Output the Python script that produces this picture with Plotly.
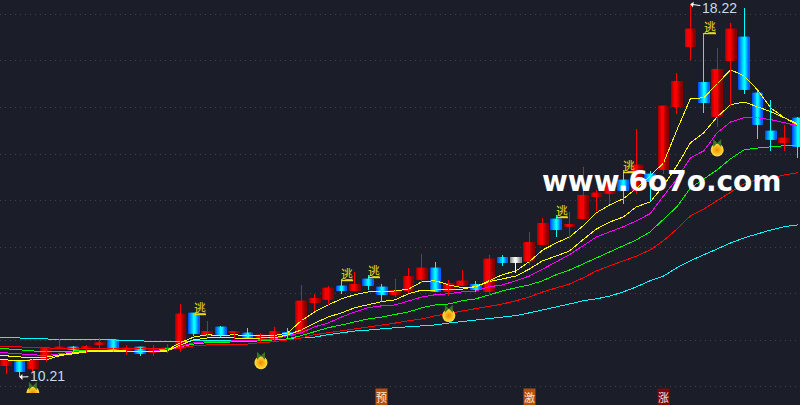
"""K-line chart with moving averages, signals and labels."""

import plotly.graph_objects as go

# Daily candles, one entry per bar
open_px = [10.45, 10.56, 10.39, 10.58, 10.82, 10.86, 10.82, 10.90, 11.03, 10.77,
           10.86, 10.73, 10.79, 10.82, 11.59, 11.10, 11.29, 11.16, 11.16, 11.03,
           11.03, 11.18, 11.14, 11.80, 11.87, 12.17, 12.06, 12.32, 12.15, 11.98,
           12.06, 12.30, 12.56, 12.04, 12.17, 12.21, 12.04, 12.79, 12.79, 12.69,
           13.05, 13.61, 13.44, 13.61, 14.08, 14.15, 14.45, 14.21, 14.58, 14.66,
           16.01, 17.30, 16.55, 15.80, 17.00, 17.52, 16.32, 15.50, 15.24, 15.78]
close_px = [10.58, 10.32, 10.60, 10.84, 10.86, 10.79, 10.88, 10.95, 10.75, 10.84,
            10.71, 10.79, 10.84, 11.57, 11.14, 11.20, 11.12, 11.20, 11.05, 11.12,
            11.20, 11.10, 11.85, 11.91, 12.13, 12.06, 12.21, 12.17, 11.98, 12.08,
            12.38, 12.56, 12.04, 12.23, 12.28, 12.08, 12.75, 12.66, 12.66, 13.11,
            13.52, 13.37, 13.50, 14.12, 14.17, 14.40, 14.21, 14.77, 14.40, 16.04,
            16.57, 17.69, 16.10, 16.83, 17.69, 16.38, 15.63, 15.31, 15.35, 15.15]
high_px = [10.58, 10.56, 10.60, 10.84, 11.03, 10.88, 10.90, 11.05, 11.03, 10.90,
           10.86, 10.90, 10.92, 11.78, 11.59, 11.42, 11.31, 11.20, 11.27, 11.16,
           11.29, 11.27, 12.19, 12.00, 12.17, 12.32, 12.47, 12.41, 12.21, 12.32,
           12.56, 12.86, 12.69, 12.30, 12.51, 12.28, 12.84, 12.84, 12.79, 13.33,
           13.63, 13.69, 13.76, 14.73, 14.23, 14.49, 14.66, 15.54, 14.64, 16.04,
           16.74, 18.22, 17.60, 17.28, 17.82, 18.14, 16.36, 16.16, 15.63, 15.80]
low_px = [10.28, 10.21, 10.30, 10.54, 10.82, 10.73, 10.73, 10.84, 10.75, 10.69,
          10.67, 10.67, 10.73, 10.75, 11.10, 11.07, 11.07, 11.03, 11.05, 10.95,
          10.99, 11.03, 11.14, 11.63, 11.76, 12.00, 12.06, 12.08, 11.83, 11.93,
          12.02, 12.23, 12.04, 11.95, 12.17, 12.04, 11.98, 12.60, 12.45, 12.62,
          13.05, 13.22, 13.18, 13.61, 13.78, 13.93, 13.93, 14.15, 14.00, 14.58,
          15.86, 17.02, 15.89, 15.58, 16.04, 16.29, 15.33, 15.07, 15.07, 14.92]
grey_bars = [38]

# Moving averages, fastest first. One extra value on the left for the bar before the window
ma_yellow_1 = [10.69, 10.67, 10.64, 10.62, 10.64, 10.69, 10.73, 10.77, 10.79, 10.79, 10.77,
               10.77, 10.75, 10.79, 10.95, 11.07, 11.12, 11.10, 11.12, 11.10, 11.10,
               11.10, 11.16, 11.42, 11.61, 11.76, 11.89, 11.98, 12.04, 12.04, 12.06,
               12.10, 12.26, 12.28, 12.19, 12.13, 12.15, 12.28, 12.41, 12.49, 12.69,
               12.94, 13.09, 13.22, 13.46, 13.74, 13.91, 14.04, 14.27, 14.53, 14.81,
               15.52, 16.19, 16.21, 16.51, 16.81, 16.68, 16.38, 15.99, 15.78, 15.65]
ma_yellow_2 = [10.60, 10.58, 10.56, 10.58, 10.58, 10.67, 10.71, 10.75, 10.77, 10.77, 10.77,
               10.75, 10.75, 10.77, 10.90, 11.01, 11.05, 11.05, 11.05, 11.03, 11.05,
               11.05, 11.12, 11.22, 11.37, 11.50, 11.59, 11.70, 11.76, 11.83, 11.87,
               12.00, 12.08, 12.08, 12.10, 12.10, 12.15, 12.26, 12.32, 12.38, 12.53,
               12.71, 12.81, 12.92, 13.16, 13.39, 13.54, 13.65, 13.87, 13.97, 14.32,
               14.75, 15.24, 15.46, 15.80, 16.06, 16.12, 16.01, 15.91, 15.78, 15.63]
ma_magenta = [10.75, 10.73, 10.71, 10.69, 10.67, 10.71, 10.75, 10.77, 10.77, 10.77, 10.77,
              10.77, 10.77, 10.79, 10.86, 10.95, 10.97, 10.97, 10.99, 10.99, 11.01,
              11.03, 11.10, 11.16, 11.29, 11.37, 11.50, 11.61, 11.70, 11.74, 11.76,
              11.85, 11.93, 11.98, 12.00, 12.04, 12.06, 12.15, 12.19, 12.28, 12.38,
              12.53, 12.69, 12.84, 13.03, 13.22, 13.33, 13.44, 13.57, 13.72, 14.10,
              14.47, 14.92, 15.07, 15.46, 15.69, 15.78, 15.78, 15.74, 15.67, 15.61]
ma_green = [10.84, 10.82, 10.79, 10.77, 10.75, 10.75, 10.77, 10.79, 10.79, 10.77, 10.77,
            10.77, 10.77, 10.82, 10.86, 10.92, 10.95, 10.95, 10.97, 10.97, 10.99,
            11.01, 11.03, 11.10, 11.18, 11.27, 11.33, 11.40, 11.46, 11.50, 11.55,
            11.61, 11.70, 11.76, 11.78, 11.85, 11.89, 11.98, 12.06, 12.13, 12.19,
            12.28, 12.41, 12.51, 12.64, 12.77, 12.90, 13.03, 13.16, 13.33, 13.61,
            13.87, 14.27, 14.47, 14.66, 14.90, 15.09, 15.13, 15.16, 15.18, 15.18]
ma_red = [10.86, 10.86, 10.86, 10.84, 10.84, 10.82, 10.82, 10.82, 10.82, 10.82, 10.82,
          10.82, 10.82, 10.82, 10.84, 10.88, 10.90, 10.92, 10.92, 10.92, 10.95,
          10.97, 11.01, 11.05, 11.12, 11.16, 11.20, 11.25, 11.29, 11.33, 11.37,
          11.42, 11.46, 11.53, 11.57, 11.63, 11.68, 11.74, 11.78, 11.85, 11.93,
          12.04, 12.13, 12.21, 12.34, 12.49, 12.60, 12.71, 12.81, 12.94, 13.14,
          13.39, 13.67, 13.82, 14.00, 14.19, 14.36, 14.45, 14.49, 14.55, 14.60]
ma_cyan = [11.07, 11.07, 11.05, 11.03, 11.03, 11.01, 11.01, 11.01, 11.01, 11.01, 10.99,
           10.99, 10.97, 10.97, 10.97, 10.99, 10.99, 10.99, 10.99, 10.99, 10.99,
           11.01, 11.03, 11.05, 11.07, 11.12, 11.16, 11.20, 11.22, 11.25, 11.27,
           11.29, 11.31, 11.33, 11.37, 11.40, 11.44, 11.46, 11.50, 11.53, 11.59,
           11.65, 11.72, 11.78, 11.85, 11.89, 11.95, 12.04, 12.15, 12.28, 12.38,
           12.56, 12.71, 12.84, 12.96, 13.09, 13.20, 13.29, 13.37, 13.44, 13.48]

# Signals
escape_bars = [14, 25, 27, 41, 46, 52]
escape_prices = [11.70, 12.43, 12.49, 13.78, 14.75, 17.75]
fruit_bars = [2, 19, 33, 53]
fruit_prices = [9.87, 10.52, 11.53, 15.09]
stage_bars = [28, 39, 49]
stage_labels = ["预", "激", "涨"]
stage_colors = ["#b4500f", "#b4500f", "#7d0808"]

BG = "#1b1e28"
n_bars = len(open_px)
bars = list(range(n_bars))
ma_bars = [-1] + bars

RED_STRIPES = ["#a80000", "#c80000", "#e40000", "#fa0000", "#ff0000", "#f40000",
               "#e00000", "#c80000", "#b00000", "#980000", "#880000"]
BLUE_STRIPES = ["#0050ff", "#0070ff", "#0090ff", "#00b0ff", "#00d0ff", "#00f0ff",
                "#00ffff", "#00e8ff", "#00b8ff", "#0088ff", "#0060ff"]
GREY_STRIPES = ["#909090", "#a8a8a8", "#c0c0c0", "#d8d8d8", "#f0f0f0", "#ffffff",
                "#f0f0f0", "#d8d8d8", "#c0c0c0", "#a8a8a8", "#909090"]


def stripe_color(i, k):
    if i in grey_bars:
        return GREY_STRIPES[k]
    return BLUE_STRIPES[k] if close_px[i] < open_px[i] else RED_STRIPES[k]


fig = go.Figure()

# Moving averages go under the candles
for values, color in [(ma_cyan, "#00ffff"), (ma_red, "#ff0000"), (ma_green, "#00ff00"),
                      (ma_magenta, "#ff00ff"), (ma_yellow_2, "#ffff00"), (ma_yellow_1, "#ffff00")]:
    fig.add_trace(go.Scatter(x=ma_bars, y=values, mode="lines", line=dict(color=color, width=1)))

# Wicks
for wick_color, wanted in [("#ff0000", "red"), ("#00ffff", "blue"), ("#ffffff", "grey")]:
    wick_x, wick_y = [], []
    for i in bars:
        if i in grey_bars:
            kind = "grey"
        else:
            kind = "blue" if close_px[i] < open_px[i] else "red"
        if kind == wanted:
            wick_x += [i, i, None]
            wick_y += [low_px[i], high_px[i], None]
    fig.add_trace(go.Scatter(x=wick_x, y=wick_y, mode="lines", line=dict(color=wick_color, width=1)))

# Bodies, built from narrow side by side bars to get the gradient
n_stripes = len(RED_STRIPES)
body_width = 0.80
stripe_width = body_width / n_stripes
for k in range(n_stripes):
    fig.add_trace(go.Bar(
        x=bars,
        y=[abs(c - o) for o, c in zip(open_px, close_px)],
        base=[min(o, c) for o, c in zip(open_px, close_px)],
        width=stripe_width * 1.05,
        offset=-body_width / 2 + k * stripe_width,
        marker=dict(color=[stripe_color(i, k) for i in bars], line=dict(width=0)),
    ))

# Fruit markers
fig.add_trace(go.Scatter(
    x=fruit_bars, y=fruit_prices, mode="markers",
    marker=dict(size=13, color="#ffe23c", line=dict(width=0),
                gradient=dict(type="radial", color="#f08a00")),
))
fig.add_trace(go.Scatter(
    x=fruit_bars, y=[p + 0.15 for p in fruit_prices], mode="markers",
    marker=dict(size=8, symbol="bowtie", color="#3c7426", line=dict(width=0)),
))

annotations = []
for bar, price in zip(escape_bars, escape_prices):
    annotations.append(dict(x=bar, y=price, text="<u>逃</u>", showarrow=False, xshift=6,
                            font=dict(family="Noto Sans CJK SC", size=12, color="#e6dc1e")))
for bar, label, color in zip(stage_bars, stage_labels, stage_colors):
    annotations.append(dict(x=bar, y=9.79, text=label, showarrow=False, bgcolor=color, borderpad=0,
                            font=dict(family="Noto Sans CJK SC", size=11, color="#f4e8e0")))

# Low and high price callouts
low_i = low_px.index(min(low_px))
high_i = high_px.index(max(high_px))
for bar, price, dx, dy in [(low_i, low_px[low_i], 28, -1), (high_i, high_px[high_i], 29, 4)]:
    annotations.append(dict(x=bar, y=price, text=f"{price:.2f}", ax=dx, ay=dy,
                            showarrow=True, arrowhead=1, arrowsize=1, arrowwidth=1, arrowcolor="#ffffff",
                            font=dict(family="Liberation Sans", size=14, color="#c4dcf0")))

# Watermark
annotations.append(dict(x=48.85, y=14.42, text="<b>www.6o7o.com</b>", showarrow=False,
                        font=dict(family="DejaVu Sans", size=28, color="#ffffff")))

fig.update_layout(
    width=800,
    height=405,
    margin=dict(l=0, r=0, t=0, b=0),
    paper_bgcolor=BG,
    plot_bgcolor=BG,
    showlegend=False,
    barmode="overlay",
    annotations=annotations,
    # hides the lower half of the fruit that sits on the panel edge
    shapes=[dict(type="rect", xref="paper", x0=0, x1=1, yref="y", y0=9.61, y1=9.87,
                 fillcolor=BG, line=dict(width=0), layer="above")],
    xaxis=dict(range=[-0.447, 59.17], visible=False, fixedrange=True),
    yaxis=dict(range=[9.61, 18.31], tick0=10, dtick=1, showticklabels=False, ticks="",
               showgrid=True, gridcolor="#3d424c", griddash="1px,4px", gridwidth=1, zeroline=False),
)

# Drop the page margin so the chart fills the window, draw the lines without smoothing
page_js = (
    "document.body.style.margin='0';"
    "document.documentElement.style.overflow='hidden';"
    "document.querySelectorAll('.scatterlayer .js-line').forEach(p => p.style.shapeRendering='crispEdges');"
)
fig.write_html("out.html", config={"displayModeBar": False}, post_script=page_js)
